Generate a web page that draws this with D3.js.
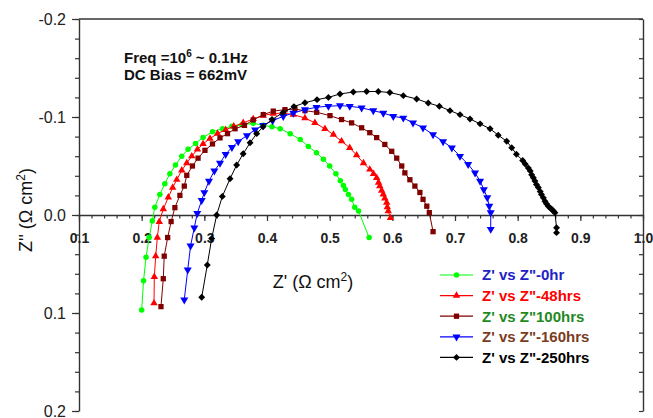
<!DOCTYPE html>
<html>
<head>
<meta charset="utf-8">
<script src="https://cdn.jsdelivr.net/npm/d3@7"></script>
<style>
  body { margin: 0; background: #fff; }
  svg { display: block; font-family: "Liberation Sans", Arial, sans-serif; }
</style>
</head>
<body>
<svg id="chart" width="653" height="418"></svg>
<script>
// Z' and Z'' (ohm cm2), one array per ageing time
var z0hr = [
  [0.200, 0.097], [0.203, 0.067], [0.207, 0.043], [0.212, 0.023], [0.217, 0.006],
  [0.221, -0.008], [0.229, -0.021], [0.237, -0.032], [0.245, -0.042], [0.254, -0.051],
  [0.264, -0.060], [0.274, -0.067], [0.286, -0.073], [0.298, -0.079], [0.313, -0.085],
  [0.329, -0.088], [0.344, -0.0905], [0.360, -0.092], [0.378, -0.0935], [0.394, -0.0916],
  [0.408, -0.090], [0.421, -0.088], [0.437, -0.083], [0.453, -0.077], [0.466, -0.070],
  [0.479, -0.0635], [0.490, -0.057], [0.500, -0.050], [0.510, -0.042], [0.517, -0.035],
  [0.522, -0.030], [0.525, -0.026], [0.530, -0.021], [0.535, -0.016], [0.540, -0.008],
  [0.546, -0.004], [0.563, 0.023]
];
var z48hrs = [
  [0.2197, 0.090], [0.2202, 0.063], [0.2224, 0.042], [0.225, 0.023], [0.228, 0.007],
  [0.2345, -0.006], [0.2425, -0.018], [0.2495, -0.028], [0.256, -0.036], [0.264, -0.0455],
  [0.272, -0.053], [0.280, -0.060], [0.289, -0.067], [0.298, -0.0725], [0.309, -0.078],
  [0.321, -0.083], [0.334, -0.087], [0.347, -0.0905], [0.362, -0.094], [0.378, -0.098],
  [0.394, -0.1015], [0.410, -0.1035], [0.426, -0.104], [0.442, -0.1024], [0.4605, -0.099],
  [0.4765, -0.094], [0.4925, -0.088], [0.506, -0.082], [0.519, -0.0753], [0.532, -0.0686],
  [0.543, -0.061], [0.554, -0.053], [0.564, -0.0465], [0.570, -0.042], [0.575, -0.038],
  [0.578, -0.033], [0.580, -0.0295], [0.583, -0.025], [0.5855, -0.021], [0.588, -0.017],
  [0.591, -0.0126], [0.592, -0.008], [0.5935, -0.004], [0.597, 0.003]
];
var z100hrs = [
  [0.2308, 0.0935], [0.2345, 0.065], [0.236, 0.042], [0.2415, 0.023], [0.247, 0.0067],
  [0.253, -0.0075], [0.261, -0.020], [0.268, -0.0295], [0.272, -0.0405], [0.281, -0.050],
  [0.290, -0.058], [0.301, -0.066], [0.313, -0.0725], [0.325, -0.0787], [0.337, -0.083],
  [0.349, -0.088], [0.364, -0.0915], [0.378, -0.097], [0.394, -0.1024], [0.410, -0.106],
  [0.4287, -0.1075], [0.4446, -0.108], [0.4606, -0.1065], [0.4793, -0.1048], [0.5005, -0.1014],
  [0.519, -0.0974], [0.535, -0.094], [0.551, -0.089], [0.564, -0.084], [0.575, -0.079],
  [0.588, -0.072], [0.599, -0.065], [0.607, -0.058], [0.615, -0.050], [0.620, -0.043],
  [0.628, -0.036], [0.636, -0.0295], [0.644, -0.023], [0.649, -0.016], [0.655, -0.009],
  [0.659, -0.0024], [0.665, 0.017]
];
var z160hrs = [
  [0.268, 0.0865], [0.2735, 0.056], [0.278, 0.0315], [0.284, 0.013], [0.2887, -0.0017],
  [0.2958, -0.015], [0.300, -0.023], [0.3074, -0.0346], [0.316, -0.045], [0.325, -0.053],
  [0.334, -0.062], [0.344, -0.069], [0.354, -0.075], [0.368, -0.081], [0.381, -0.087],
  [0.394, -0.0916], [0.409, -0.0963], [0.426, -0.1007], [0.442, -0.104], [0.4606, -0.1075],
  [0.479, -0.110], [0.498, -0.111], [0.5165, -0.1116], [0.532, -0.111], [0.551, -0.1093],
  [0.5696, -0.1065], [0.5856, -0.104], [0.6015, -0.1007], [0.6175, -0.099], [0.633, -0.094],
  [0.649, -0.089], [0.665, -0.082], [0.681, -0.075], [0.695, -0.0686], [0.708, -0.060],
  [0.721, -0.0516], [0.732, -0.043], [0.740, -0.0346], [0.746, -0.026], [0.7515, -0.0177],
  [0.7547, -0.009], [0.757, -0.0024], [0.757, 0.0145]
];
var z250hrs = [
  [0.2958, 0.084], [0.3047, 0.051], [0.3117, 0.024], [0.3197, 0.000], [0.3287, -0.019],
  [0.341, -0.037], [0.3516, -0.051], [0.362, -0.0625], [0.373, -0.0737], [0.3835, -0.083],
  [0.3936, -0.090], [0.408, -0.0974], [0.4255, -0.1045], [0.443, -0.1106], [0.4606, -0.1146],
  [0.4798, -0.1177], [0.498, -0.120], [0.5165, -0.1235], [0.5377, -0.1255], [0.559, -0.126],
  [0.5776, -0.126], [0.596, -0.1250], [0.6175, -0.1218], [0.6388, -0.1184], [0.6573, -0.1143],
  [0.675, -0.111], [0.692, -0.1065], [0.708, -0.1024], [0.724, -0.098], [0.740, -0.093],
  [0.756, -0.088], [0.769, -0.0814], [0.7825, -0.0753], [0.7905, -0.0686], [0.798, -0.062],
  [0.808, -0.0556], [0.812, -0.052], [0.817, -0.048], [0.820, -0.045], [0.8223, -0.041],
  [0.825, -0.038], [0.8276, -0.0346], [0.830, -0.031], [0.833, -0.028], [0.836, -0.024],
  [0.838, -0.021], [0.841, -0.0175], [0.8436, -0.014], [0.846, -0.0115], [0.849, -0.009],
  [0.852, -0.007], [0.8543, -0.0058], [0.857, -0.004], [0.8595, -0.0024], [0.862, 0.013],
  [0.862, 0.018]
];

var seriesLabels = ["Z' vs Z\"-0hr", "Z' vs Z\"-48hrs", "Z' vs Z\"100hrs", "Z' vs Z\"-160hrs", "Z' vs Z\"-250hrs"];
var xTicks = [0.1, 0.2, 0.3, 0.4, 0.5, 0.6, 0.7, 0.8, 0.9, 1.0];
var yTicks = [-0.2, -0.1, 0.0, 0.1, 0.2];

// styles
var lineColors = ["#00ff00", "#ff0000", "#800000", "#0000ff", "#000000"];
var labelColors = ["#2222c4", "#ff0000", "#1f8a1f", "#7a3c1c", "#000000"];
var axisColor = "#333";

var svg = d3.select("#chart");

var x = d3.scaleLinear().domain([0.1, 1.0]).range([79, 643]);
var y = d3.scaleLinear().domain([-0.2, 0.2]).range([19, 411]);

var xMinor = d3.range(0, 46).map(function (i) { return 0.1 + i * 0.02; });
var yMinor = d3.range(0, 21).map(function (i) { return -0.2 + i * 0.02; });
var fmt = function (d) { return d.toFixed(1); };

function styleAxis(g) {
  g.select(".domain").attr("stroke", axisColor).attr("stroke-width", 1.4);
  g.selectAll(".tick line").attr("stroke", axisColor).attr("stroke-width", 1.2);
  g.selectAll(".tick text").attr("fill", "#222");
}

// left axis
svg.append("g")
  .attr("transform", "translate(79,0)")
  .call(d3.axisLeft(y).tickValues(yMinor).tickSize(4).tickSizeOuter(0).tickFormat(""))
  .call(styleAxis);
svg.append("g")
  .attr("transform", "translate(79,0)")
  .call(d3.axisLeft(y).tickValues(yTicks).tickSize(7).tickSizeOuter(0).tickPadding(6).tickFormat(fmt))
  .call(styleAxis)
  .call(function (g) {
    g.select(".domain").remove();
    g.selectAll(".tick text").attr("font-size", 16).attr("font-family", "Liberation Sans, Arial, sans-serif");
  });

// right axis, ticks pointing in
svg.append("g")
  .attr("transform", "translate(643,0)")
  .call(d3.axisLeft(y).tickValues(yMinor).tickSize(4).tickSizeOuter(0).tickFormat(""))
  .call(styleAxis);

// top border
svg.append("line")
  .attr("x1", x(0.1)).attr("x2", x(1.0))
  .attr("y1", y(-0.2)).attr("y2", y(-0.2))
  .attr("stroke", axisColor).attr("stroke-width", 1.4);

// x axis through Z'' = 0
svg.append("g")
  .attr("transform", "translate(0," + y(0) + ")")
  .call(d3.axisBottom(x).tickValues(xMinor).tickSize(3.5).tickSizeOuter(0).tickFormat(""))
  .call(styleAxis);
svg.append("g")
  .attr("transform", "translate(0," + y(0) + ")")
  .call(d3.axisBottom(x).tickValues(xTicks).tickSize(6).tickSizeOuter(0).tickPadding(12).tickFormat(fmt))
  .call(styleAxis)
  .call(function (g) {
    g.select(".domain").remove();
    g.selectAll(".tick text").attr("font-size", 14).attr("font-weight", "bold")
      .attr("font-family", "Liberation Sans, Arial, sans-serif");
  });

// axis titles
var yTitle = svg.append("text")
  .attr("transform", "translate(32,210) rotate(-90)")
  .attr("text-anchor", "middle")
  .attr("font-size", 18)
  .attr("fill", "#111");
yTitle.append("tspan").text("Z'' (\u03A9 cm");
yTitle.append("tspan").attr("font-size", 12).attr("dy", -7).text("2");
yTitle.append("tspan").attr("dy", 7).text(")");

var xTitle = svg.append("text")
  .attr("x", 313).attr("y", 288)
  .attr("text-anchor", "middle")
  .attr("font-size", 18)
  .attr("fill", "#111");
xTitle.append("tspan").text("Z' (\u03A9 cm");
xTitle.append("tspan").attr("font-size", 12).attr("dy", -7).text("2");
xTitle.append("tspan").attr("dy", 7).text(")");

// test conditions
var note = svg.append("g")
  .attr("font-size", 15).attr("font-weight", "bold").attr("fill", "#111");
var freq = note.append("text").attr("x", 124).attr("y", 63);
freq.append("tspan").text("Freq =10");
freq.append("tspan").attr("font-size", 10).attr("dy", -6).text("6");
freq.append("tspan").attr("dy", 6).text(" ~ 0.1Hz");
note.append("text").attr("x", 124).attr("y", 80).text("DC Bias = 662mV");

// series
var allSeries = [z0hr, z48hrs, z100hrs, z160hrs, z250hrs];
var symbols = [
  { type: d3.symbolCircle, size: 24, rotate: 0 },
  { type: d3.symbolTriangle, size: 24, rotate: 0 },
  { type: d3.symbolSquare, size: 28, rotate: 0 },
  { type: d3.symbolTriangle, size: 28, rotate: 180 },
  { type: d3.symbolSquare, size: 24, rotate: 45 }
];

var line = d3.line()
  .x(function (d) { return x(d[0]); })
  .y(function (d) { return y(d[1]); });

var plot = svg.append("g").attr("class", "plot");

allSeries.forEach(function (data, i) {
  var g = plot.append("g").attr("class", "series");
  var sym = d3.symbol().type(symbols[i].type).size(symbols[i].size);

  g.append("path")
    .datum(data)
    .attr("d", line)
    .attr("fill", "none")
    .attr("stroke", lineColors[i])
    .attr("stroke-width", 1);

  g.selectAll("path.pt")
    .data(data)
    .enter().append("path")
    .attr("class", "pt")
    .attr("d", sym)
    .attr("transform", function (d) {
      return "translate(" + x(d[0]) + "," + y(d[1]) + ") rotate(" + symbols[i].rotate + ")";
    })
    .attr("fill", lineColors[i]);
});

// legend
var legend = svg.append("g").attr("class", "legend");
var rows = legend.selectAll("g")
  .data(seriesLabels)
  .enter().append("g")
  .attr("transform", function (d, i) { return "translate(440," + (275 + i * 20.6) + ")"; });

rows.append("line")
  .attr("x1", 0).attr("x2", 33)
  .attr("stroke", function (d, i) { return lineColors[i]; })
  .attr("stroke-width", 1.2);

rows.append("path")
  .attr("d", function (d, i) { return d3.symbol().type(symbols[i].type).size(symbols[i].size)(); })
  .attr("transform", function (d, i) { return "translate(16.5,0) rotate(" + symbols[i].rotate + ")"; })
  .attr("fill", function (d, i) { return lineColors[i]; });

rows.append("text")
  .attr("x", 42).attr("dy", "0.36em")
  .attr("font-size", 15).attr("font-weight", "bold")
  .attr("fill", function (d, i) { return labelColors[i]; })
  .text(function (d) { return d; });
</script>
</body>
</html>
